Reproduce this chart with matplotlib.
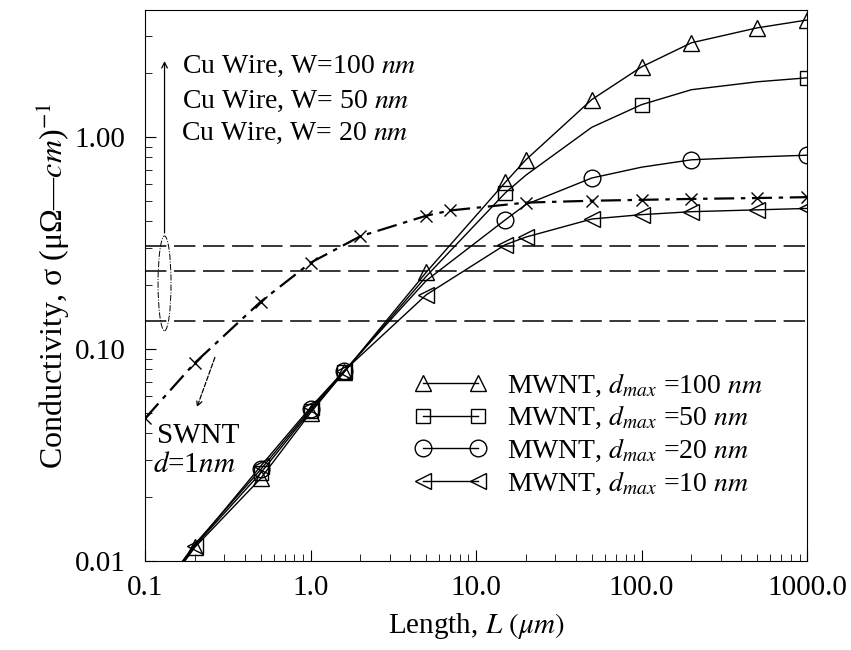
import matplotlib
matplotlib.use("Agg")
import matplotlib.pyplot as plt
from matplotlib.patches import Ellipse

plt.rcParams['font.family'] = ['Liberation Serif', 'DejaVu Serif']
plt.rcParams['mathtext.fontset'] = 'stix'

# lengths (um) shared by the MWNT curves
length = [0.1, 0.2, 0.5, 1.0, 1.6, 5, 15, 20, 50, 100, 200, 500, 1000]
mwnt_100 = [0.0055, 0.0116, 0.0245, 0.050, 0.078, 0.23, 0.61, 0.78, 1.50, 2.14, 2.78, 3.27, 3.56]
mwnt_50 = [0.0056, 0.0118, 0.026, 0.051, 0.078, 0.22, 0.544, 0.66, 1.11, 1.42, 1.67, 1.82, 1.90]
mwnt_20 = [0.0057, 0.012, 0.027, 0.052, 0.079, 0.21, 0.406, 0.48, 0.64, 0.72, 0.78, 0.805, 0.82]
mwnt_10 = [0.0058, 0.0118, 0.028, 0.053, 0.079, 0.18, 0.31, 0.337, 0.41, 0.43, 0.444, 0.453, 0.46]

# SWNT d=1nm
swnt_len = [0.1, 0.2, 0.5, 1, 2, 5, 7, 20, 50, 100, 200, 500, 1000]
swnt = [0.047, 0.086, 0.167, 0.255, 0.34, 0.425, 0.45, 0.49, 0.50, 0.505, 0.51, 0.515, 0.52]

# Cu wire conductivity for W = 100, 50, 20 nm
cu_wire = [0.307, 0.232, 0.136]

xticks = [0.1, 1, 10, 100, 1000]
xlabels = ['0.1', '1.0', '10.0', '100.0', '1000.0']
yticks = [0.01, 0.1, 1]
ylabels = ['0.01', '0.10', '1.00']

fig = plt.figure(figsize=(8.51, 6.5), dpi=100)
ax = fig.add_axes([0.1704, 0.137, 0.778, 0.848])

for y in cu_wire:
    ax.axhline(y, color='black', lw=1.1, dashes=(14, 5))

ax.plot(swnt_len, swnt, color='black', lw=1.6, dashes=(9, 3, 2, 3),
        marker='x', ms=8, mew=1.0)

style = dict(color='black', lw=1.0, mfc='none', mew=1.0)
ax.plot(length, mwnt_100, marker='^', ms=12, markevery=list(range(1, 13)),
        label=r'MWNT, $d_{max}$ =100 $nm$', **style)
ax.plot(length, mwnt_50, marker='s', ms=10, markevery=[2, 3, 4, 6, 9, 12],
        label=r'MWNT, $d_{max}$ =50 $nm$', **style)
ax.plot(length, mwnt_20, marker='o', ms=12, markevery=[2, 3, 4, 6, 8, 10, 12],
        label=r'MWNT, $d_{max}$ =20 $nm$', **style)
ax.plot(length, mwnt_10, marker='<', ms=12, markevery=list(range(1, 13)),
        label=r'MWNT, $d_{max}$ =10 $nm$', **style)

ax.set_xscale('log')
ax.set_yscale('log')
ax.set_xlim(0.1, 1000)
ax.set_ylim(0.01, 3.98)
ax.set_xticks(xticks)
ax.set_xticklabels(xlabels)
ax.set_yticks(yticks)
ax.set_yticklabels(ylabels)
ax.tick_params(which='both', direction='in', top=False, right=False, labelsize=21)
ax.tick_params(axis='x', pad=10)
ax.tick_params(axis='y', pad=14)
ax.tick_params(which='major', length=8)
ax.tick_params(which='minor', length=5)

ax.set_xlabel(r'Length, $L$ $(\mu m)$', fontsize=21, labelpad=7)
ax.set_ylabel(r'Conductivity, σ (μΩ—$cm$)$^{-1}$', fontsize=23, labelpad=2)

# Cu wire annotation
ax.add_patch(Ellipse((0.0295, 0.5036), 0.0196, 0.172, transform=ax.transAxes,
                     fill=False, lw=0.7, ls='-.', color='black'))
ax.annotate('', xy=(0.0295, 0.912), xytext=(0.0295, 0.59),
            xycoords='axes fraction', textcoords='axes fraction',
            arrowprops=dict(arrowstyle='->', lw=0.9, color='black'))
ax.text(0.056, 0.886, r'Cu Wire, W=100 $nm$', transform=ax.transAxes, fontsize=20)
ax.text(0.056, 0.822, r'Cu Wire, W= 50 $nm$', transform=ax.transAxes, fontsize=20)
ax.text(0.054, 0.764, r'Cu Wire, W= 20 $nm$', transform=ax.transAxes, fontsize=20)

# SWNT annotation
ax.annotate('', xy=(0.077, 0.274), xytext=(0.107, 0.374),
            xycoords='axes fraction', textcoords='axes fraction',
            arrowprops=dict(arrowstyle='->', lw=0.9, ls='--', color='black'))
ax.text(0.018, 0.214, 'SWNT', transform=ax.transAxes, fontsize=21)
ax.text(0.012, 0.1615, r'$d$=1$nm$', transform=ax.transAxes, fontsize=21)

ax.legend(loc='center left', bbox_to_anchor=(0.39, 0.23), frameon=False, fontsize=20,
          numpoints=2, handlelength=2.6, handletextpad=0.75, labelspacing=0.2,
          borderaxespad=0)

fig.savefig('out.png', dpi=100)
